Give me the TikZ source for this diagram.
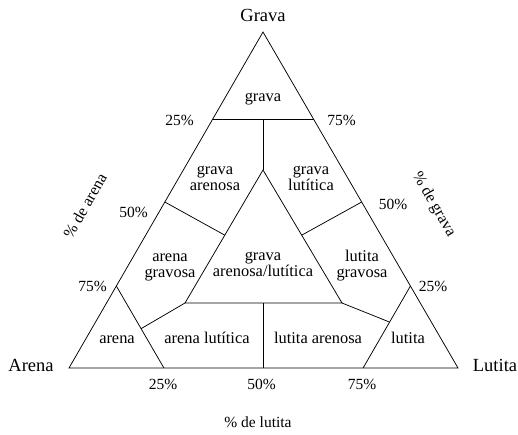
\documentclass[tikz,border=0pt]{standalone}
\usepackage{fontspec}
\setmainfont{Liberation Serif}
\usetikzlibrary{calc}
\begin{document}
\begin{tikzpicture}[x=1pt,y=-1pt,
  edge/.style={line width=0.75pt,line join=miter},
  corner/.style={anchor=base,inner sep=0pt,font=\fontsize{18.5}{20}\selectfont},
  region/.style={anchor=base,inner sep=0pt,font=\fontsize{16.4}{17}\selectfont},
  pct/.style={anchor=base,inner sep=0pt,font=\fontsize{15.5}{17}\selectfont},
  axis/.style={inner sep=0pt,text height=0.7em,text depth=0.2em,font=\fontsize{16}{17}\selectfont}]
\useasboundingbox (0,0) rectangle (518,434);
% outer triangle
\coordinate (A) at (69,368);
\coordinate (G) at (263,32);
\coordinate (L) at (458,368);
\draw[edge] (A) -- (G) -- (L) -- cycle;
% top line (75% grava)
\coordinate (T1) at ($(A)!0.741!(G)$);
\coordinate (T2) at ($(L)!0.741!(G)$);
\coordinate (I) at (263,170);
\coordinate (Tm) at (I |- T1);
\draw[edge] (T1) -- (T2);
% inner triangle
\coordinate (Il) at (185,303);
\coordinate (Ir) at (342,303);
\draw[edge] (I) -- (Il) -- (Ir) -- cycle;
\draw[edge] (Tm) -- (I);
% 50% lines
\coordinate (P50l) at ($(A)!0.494!(G)$);
\coordinate (P50r) at ($(L)!0.494!(G)$);
\coordinate (Jl) at ($(I)!0.49!(Il)$);
\coordinate (Jr) at ($(I)!0.49!(Ir)$);
\draw[edge] (P50l) -- (Jl);
\draw[edge] (P50r) -- (Jr);
% corner triangles
\coordinate (Aa) at ($(A)!0.244!(G)$);
\coordinate (Ab) at ($(A)!0.244!(L)$);
\coordinate (La) at ($(L)!0.244!(G)$);
\coordinate (Lb) at ($(L)!0.244!(A)$);
\draw[edge] (Aa) -- (Ab);
\draw[edge] (La) -- (Lb);
\coordinate (Jal) at ($(Aa)!0.52!(Ab)$);
\coordinate (Jar) at ($(La)!0.44!(Lb)$);
\draw[edge] (Jal) -- (Il);
\draw[edge] (Ir) -- (Jar);
% bottom vertical
\coordinate (Bm) at ($(Il)!0.5!(Ir)$);
\coordinate (Bb) at (Bm |- A);
\draw[edge] (Bm) -- (Bb);
% corner labels
\node[corner] (lG) at (263,21) {Grava};
\node[corner] (lA) at (31,371) {Arena};
\node[corner] (lL) at (495,371) {Lutita};
% region labels
\node[region] (r1) at (263,101) {grava};
\node[region] (r2) at (215,174) {\begin{tabular}[t]{@{}c@{}}grava\\[-1pt]arenosa\end{tabular}};
\node[region] (r3) at (311,174) {\begin{tabular}[t]{@{}c@{}}grava\\[-1pt]lutítica\end{tabular}};
\node[region] (r4) at (170,261) {\begin{tabular}[t]{@{}c@{}}arena\\[-1pt]gravosa\end{tabular}};
\node[region] (r5) at (263,260) {\begin{tabular}[t]{@{}c@{}}grava\\[-1pt]arenosa/lutítica\end{tabular}};
\node[region] (r6) at (362,261) {\begin{tabular}[t]{@{}c@{}}lutita\\[-1pt]gravosa\end{tabular}};
\node[region] (r7) at (117,343) {arena};
\node[region] (r8) at (207,343) {arena lutítica};
\node[region] (r9) at (318,343) {lutita arenosa};
\node[region] (r10) at (408,343) {lutita};
% percentages
\node[pct] (p1) at (179.5,125) {25\%};
\node[pct] (p2) at (341.5,125) {75\%};
\node[pct] (p3) at (133.5,217) {50\%};
\node[pct] (p4) at (393,209) {50\%};
\node[pct] (p5) at (92.5,291) {75\%};
\node[pct] (p6) at (433,291) {25\%};
\node[pct] (p7) at (163,389) {25\%};
\node[pct] (p8) at (261.5,389) {50\%};
\node[pct] (p9) at (362,389) {75\%};
% axis titles
\node[axis,rotate=60] (ax1) at (87.5,207) {\% de arena};
\node[axis,rotate=-60] (ax2) at (432.5,205) {\% de grava};
\node[pct] (ax3) at (258,427) {\% de lutita};
\end{tikzpicture}
\end{document}
